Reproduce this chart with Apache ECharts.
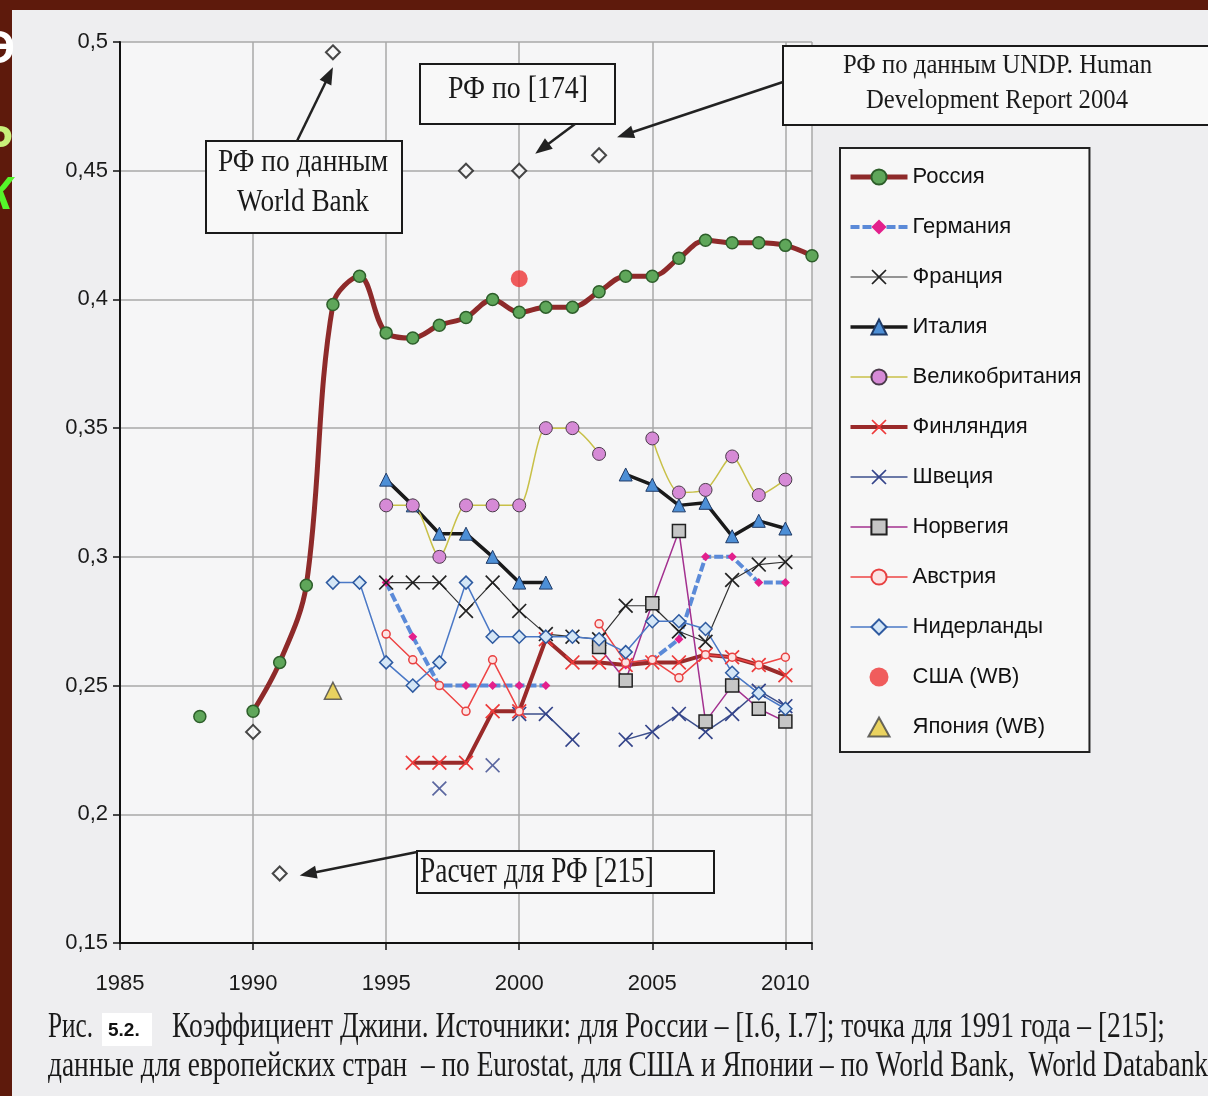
<!DOCTYPE html>
<html><head><meta charset="utf-8">
<script src="https://cdn.jsdelivr.net/npm/echarts@6/dist/echarts.min.js"></script>
<style>html,body{margin:0;padding:0;background:#5e1a0c;}#c{width:1208px;height:1096px;}</style>
</head><body><div id="c"></div><script>
// ---------- DATA ----------
const years = [1988,1989,1990,1991,1992,1993,1994,1995,1996,1997,1998,1999,2000,2001,2002,2003,2004,2005,2006,2007,2008,2009,2010,2011];
const russia      = [0.238,null,0.240,0.259,0.289,0.398,0.409,0.387,0.385,0.390,0.393,0.400,0.395,0.397,0.397,0.403,0.409,0.409,0.416,0.423,0.422,0.422,0.421,0.417];
const germany     = [null,null,null,null,null,null,null,0.290,0.269,0.250,0.250,0.250,0.250,0.250,null,null,0.258,0.260,0.268,0.300,0.300,0.290,0.290,null];
const france      = [null,null,null,null,null,null,null,0.290,0.290,0.290,0.279,0.290,0.279,0.270,0.269,0.268,0.281,0.281,0.271,0.267,0.291,0.297,0.298,null];
const italy       = [null,null,null,null,null,null,null,0.330,0.320,0.309,0.309,0.300,0.290,0.290,null,null,0.332,0.328,0.320,0.321,0.308,0.314,0.311,null];
const uk          = [null,null,null,null,null,null,null,0.320,0.320,0.300,0.320,0.320,0.320,0.350,0.350,0.340,null,0.346,0.325,0.326,0.339,0.324,0.330,null];
const finland     = [null,null,null,null,null,null,null,null,0.220,0.220,0.220,0.240,0.240,0.268,0.259,0.259,0.258,0.259,0.259,0.262,0.261,0.258,0.254,null];
const sweden      = [null,null,null,null,null,null,null,null,null,null,null,null,0.239,0.239,0.229,null,0.229,0.232,0.239,0.232,0.239,0.248,0.242,null];
const swedenSepYears  = [1997,1999];
const swedenSepValues = [0.210,0.219];
const norway      = [null,null,null,null,null,null,null,null,null,null,null,null,null,null,null,0.265,0.252,0.282,0.310,0.236,0.250,0.241,0.236,null];
const austria     = [null,null,null,null,null,null,null,0.270,0.260,0.250,0.240,0.260,0.240,null,null,0.274,0.259,0.260,0.253,0.262,0.261,0.258,0.261,null];
const netherlands = [null,null,null,null,null,0.290,0.290,0.259,0.250,0.259,0.290,0.269,0.269,0.269,0.269,0.268,0.263,0.275,0.275,0.272,0.255,0.247,0.241,null];
const usaYears = [2000], usaValues = [0.408];
const japanYears = [1993], japanValues = [0.248];
const ruWbYears  = [1990,1991,1993,1998,2000,2003];
const ruWbValues = [0.232,0.177,0.496,0.450,0.450,0.456];
const xTicks = [1985,1990,1995,2000,2005,2010];
const legendNames = ['Россия','Германия','Франция','Италия','Великобритания','Финляндия','Швеция','Норвегия','Австрия','Нидерланды','США (WB)','Япония (WB)'];

// ---------- CHART ----------
const pairs = a => years.map((y,i)=>[y,a[i]]);
const zip = (xs,vs) => xs.map((x,i)=>[x,vs[i]]);
const X = 'path://M1.6,0 L10,8.4 L18.4,0 L20,1.6 L11.6,10 L20,18.4 L18.4,20 L10,11.6 L1.6,20 L0,18.4 L8.4,10 L0,1.6 Z';
const TRI = 'path://M10,0 L20,18 L0,18 Z';

function line(name, data, o){
  return Object.assign({type:'line', name, data, connectNulls:false, symbolKeepAspect:true, emphasis:{disabled:true}}, o);
}
const series = [
  line('Россия', pairs(russia), {smooth:0.35, symbol:'circle', symbolSize:12,
    lineStyle:{color:'#8e2a2a', width:5}, itemStyle:{color:'#5fa65a', borderColor:'#2d5e2a', borderWidth:1.5}}),
  line('Германия', pairs(germany), {symbol:'diamond', symbolSize:9,
    lineStyle:{color:'#5b8ad8', width:4, type:[9,3]}, itemStyle:{color:'#e3208c', borderWidth:0}}),
  line('Франция', pairs(france), {symbol:X, symbolSize:15,
    lineStyle:{color:'#333', width:1.2}, itemStyle:{color:'#222', borderWidth:0}}),
  line('Италия', pairs(italy), {symbol:'triangle', symbolSize:13,
    lineStyle:{color:'#1a1a1a', width:3.5}, itemStyle:{color:'#4d8fd6', borderColor:'#1f3a66', borderWidth:1}}),
  line('Великобритания', pairs(uk), {smooth:0.25, symbol:'circle', symbolSize:13,
    lineStyle:{color:'#c8c048', width:1.5}, itemStyle:{color:'#d68ad6', borderColor:'#4a3a4a', borderWidth:1}}),
  line('Финляндия', pairs(finland), {symbol:X, symbolSize:15,
    lineStyle:{color:'#9a2a2a', width:4}, itemStyle:{color:'#ee3a3a', borderWidth:0}}),
  line('Швеция', pairs(sweden), {symbol:X, symbolSize:15,
    lineStyle:{color:'#3c4f8c', width:1.5}, itemStyle:{color:'#34448a', borderWidth:0}}),
  {type:'scatter', name:'Швеция-отд', data:zip(swedenSepYears, swedenSepValues), symbol:X, symbolSize:15,
    itemStyle:{color:'#34448a'}, emphasis:{disabled:true}},
  line('Норвегия', pairs(norway), {symbol:'rect', symbolSize:13,
    lineStyle:{color:'#a3308f', width:1.5}, itemStyle:{color:'#c6c6c6', borderColor:'#222', borderWidth:1.5}}),
  line('Австрия', pairs(austria), {symbol:'circle', symbolSize:8,
    lineStyle:{color:'#ee4444', width:1.5}, itemStyle:{color:'#fbe4e4', borderColor:'#e84040', borderWidth:1.5}}),
  line('Нидерланды', pairs(netherlands), {symbol:'diamond', symbolSize:13,
    lineStyle:{color:'#4a78c6', width:1.5}, itemStyle:{color:'#d4e6f6', borderColor:'#2e5aa0', borderWidth:1.5}}),
  {type:'scatter', name:'США (WB)', data:zip(usaYears, usaValues), symbol:'circle', symbolSize:17,
    itemStyle:{color:'#ee3535'}, emphasis:{disabled:true}},
  {type:'scatter', name:'Япония (WB)', data:zip(japanYears, japanValues), symbol:'triangle', symbolSize:17,
    itemStyle:{color:'#e6c93a', borderColor:'#444', borderWidth:1.5}, emphasis:{disabled:true}},
  {type:'scatter', name:'РФ WB', data:zip(ruWbYears, ruWbValues), symbol:'diamond', symbolSize:14,
    itemStyle:{color:'#fafafa', borderColor:'#1a1a1a', borderWidth:2}, emphasis:{disabled:true}}
];

const legendData = legendNames.map(n => {
  if (n === 'США (WB)') return {name:n, icon:'circle'};
  if (n === 'Япония (WB)') return {name:n, icon:TRI};
  return {name:n};
});

const chart = echarts.init(document.getElementById('c'), null, {renderer:'canvas'});
const option = {
  animation:false,
  backgroundColor:'#5e1a0c',
  grid:{left:120, right:396, top:42, bottom:153, show:true, backgroundColor:'#f6f6f7', borderWidth:0},
  xAxis:{type:'value', min:1985, max:2011, interval:5,
    axisLine:{show:true, lineStyle:{color:'#111', width:2}},
    axisTick:{show:true, length:7, lineStyle:{color:'#111', width:1.5}},
    axisLabel:{margin:30, fontFamily:'Liberation Sans', fontSize:22, color:'#1a1a1a',
      formatter:v => xTicks.includes(v) ? String(v) : ''},
    splitLine:{show:true, lineStyle:{color:'#a9a9a9', width:1.5}}},
  yAxis:{type:'value', min:0.15, max:0.5, interval:0.05,
    axisLine:{show:true, lineStyle:{color:'#111', width:2}},
    axisTick:{show:true, length:7, lineStyle:{color:'#111', width:1.5}},
    axisLabel:{margin:12, fontFamily:'Liberation Sans', fontSize:22, color:'#1a1a1a',
      formatter:v => (+v.toFixed(2)).toString().replace('.', ',')},
    splitLine:{show:true, lineStyle:{color:'#a9a9a9', width:1.5}}},
  legend:{data:legendData, orient:'vertical', left:840, top:148, padding:[18,8,14,8],
    itemWidth:57, itemHeight:19, itemGap:28, selectedMode:false, symbolKeepAspect:true,
    lineStyle:{width:'inherit'},
    borderColor:'#222', borderWidth:2, backgroundColor:'#f7f7f7',
    textStyle:{fontFamily:'Liberation Sans', fontSize:22, color:'#111'}},
  series
};
chart.setOption(option);

// ---------- ANNOTATIONS ----------
const ctx = document.createElement('canvas').getContext('2d');
function fitText(str, x, y, font, targetW, fill){
  ctx.font = font; const w = ctx.measureText(str).width;
  return {type:'text', x, y, scaleX:targetW/w, z:100,
    style:{text:str, font, fill:fill||'#1a1a1a', textAlign:'left', textVerticalAlign:'middle', x:0, y:0}};
}
function box(x,y,w,h){ return {type:'rect', z:99, shape:{x,y,width:w,height:h}, style:{fill:'#f8f8f8', stroke:'#1a1a1a', lineWidth:2}}; }
function arrow(x1,y1,x2,y2){
  const a=Math.atan2(y2-y1,x2-x1), L=17, W=6.5;
  const bx=x2-L*Math.cos(a), by=y2-L*Math.sin(a), px=-Math.sin(a)*W, py=Math.cos(a)*W;
  return [{type:'line', z:100, shape:{x1,y1,x2:bx+2*Math.cos(a),y2:by+2*Math.sin(a)}, style:{stroke:'#222', lineWidth:2.5}},
          {type:'polygon', z:100, shape:{points:[[x2,y2],[bx+px,by+py],[bx-px,by-py]]}, style:{fill:'#222'}}];
}
const P = (x,v) => chart.convertToPixel({gridIndex:0}, [x,v]);
const p93 = P(ruWbYears[2], ruWbValues[2]);
const p00 = P(ruWbYears[4], ruWbValues[4]);
const p03 = P(ruWbYears[5], ruWbValues[5]);
const p91 = P(ruWbYears[1], ruWbValues[1]);

const serif = s => s + 'px "Liberation Serif"';
const g = [
  {type:'rect', z:-10, shape:{x:12, y:10, width:1196, height:1086}, style:{fill:'#eeeef0'}},
  {type:'text', z:100, x:15, y:50, style:{text:'Э', font:'bold 46px "Liberation Sans"', fill:'#ffffff', textAlign:'right', textVerticalAlign:'middle'}},
  {type:'text', z:100, x:13, y:145, style:{text:'Р', font:'bold 46px "Liberation Sans"', fill:'#c9f07a', textAlign:'right', textVerticalAlign:'middle'}},
  {type:'text', z:100, x:13, y:196, style:{text:'Ж', font:'bold italic 46px "Liberation Sans"', fill:'#55f52a', textAlign:'right', textVerticalAlign:'middle'}},
  box(206,141,196,92),
  fitText('РФ по данным', 218, 163, serif(31), 170),
  fitText('World Bank', 237, 203, serif(31), 132),
  ...arrow(297,141, p93[0], p93[1]+15),
  box(420,64,195,60),
  fitText('РФ по [174]', 448, 90, serif(32), 140),
  ...arrow(575,124, p00[0]+16, p00[1]-17),
  box(783,46,440,79),
  fitText('РФ по данным UNDP. Human', 843, 66, serif(28), 309),
  fitText('Development Report 2004', 866, 101, serif(28), 262),
  ...arrow(783,82, p03[0]+18, p03[1]-18),
  box(417,851,297,42),
  fitText('Расчет для РФ [215]', 420, 873, serif(35), 234),
  ...arrow(417,852, p91[0]+20, p91[1]+2),
  fitText('Рис.', 48, 1028, serif(36), 45),
  {type:'rect', z:99, shape:{x:102, y:1013, width:50, height:33}, style:{fill:'#ffffff'}},
  {type:'text', z:100, x:108, y:1031, style:{text:'5.2.', font:'bold 19px "Liberation Sans"', fill:'#111', textAlign:'left', textVerticalAlign:'middle'}},
  fitText('Коэффициент Джини. Источники: для России – [I.6, I.7]; точка для 1991 года – [215];', 172, 1028, serif(36), 993),
  fitText('данные для европейских стран  – по Eurostat, для США и Японии – по World Bank,  World Databank', 48, 1067, serif(36), 1160)
];
chart.setOption({graphic:{elements:g}});
</script></body></html>
